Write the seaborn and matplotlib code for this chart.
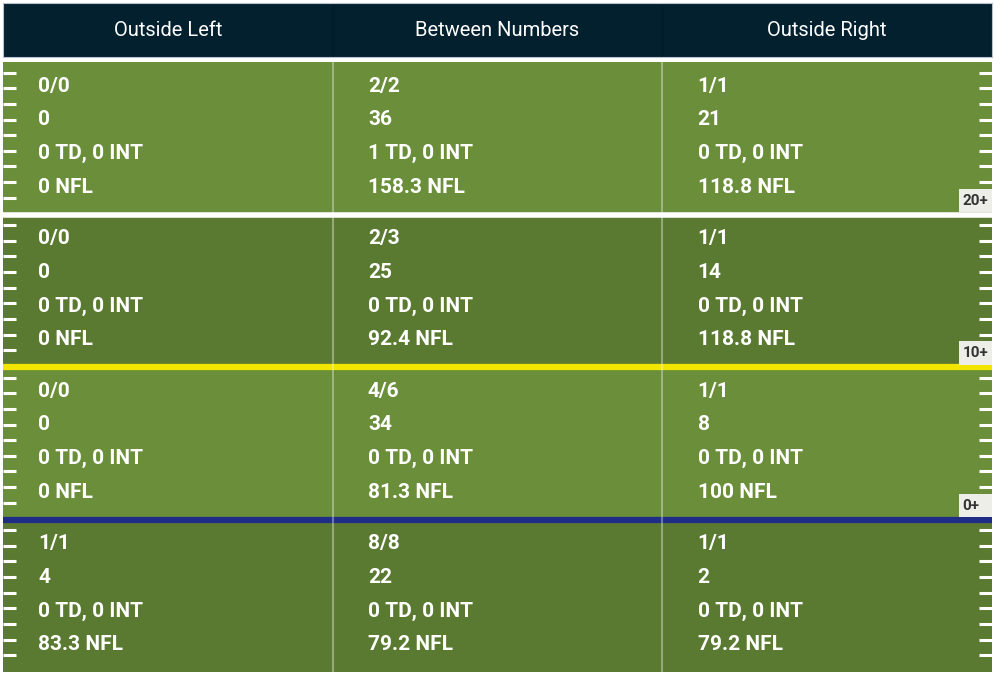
import numpy as np
import pandas as pd
import seaborn as sns
import matplotlib.pyplot as plt
from matplotlib.colors import ListedColormap
from matplotlib.patches import Rectangle

# Passing chart by field zone
zones = ['Outside Left', 'Between Numbers', 'Outside Right']
depths = ['20+', '10+', '0+', '']
completions = [[0, 2, 1], [0, 2, 1], [0, 4, 1], [1, 8, 1]]
attempts = [[0, 2, 1], [0, 3, 1], [0, 6, 1], [1, 8, 1]]
yards = [[0, 36, 21], [0, 25, 14], [0, 34, 8], [4, 22, 2]]
touchdowns = [[0, 1, 0], [0, 0, 0], [0, 0, 0], [0, 0, 0]]
interceptions = [[0, 0, 0], [0, 0, 0], [0, 0, 0], [0, 0, 0]]
rating = [[0, 158.3, 118.8], [0, 92.4, 118.8], [0, 81.3, 100], [83.3, 79.2, 79.2]]

light_green = '#6b8e3a'
dark_green = '#5b7a31'
header_col = '#03202f'

sns.set_style('white')
plt.rcParams['font.family'] = ['Roboto', 'DejaVu Sans']

fig = plt.figure(figsize=(10, 6.77), dpi=100)

# header bar
ax_h = fig.add_axes([0.003, 1 - 57 / 677, 0.989, 54 / 677])
ax_h.set_xlim(0, len(zones))
ax_h.set_ylim(0, 1)
ax_h.set_facecolor(header_col)
for s in ax_h.spines.values():
    s.set_color('#b8c2cc')
    s.set_linewidth(0.8)
ax_h.set_xticks([])
ax_h.set_yticks([])
for i, z in enumerate(zones):
    ax_h.text(i + 0.5, 0.5, z, color='white', fontsize=14.5, ha='center', va='center')
for i in range(1, len(zones)):
    ax_h.axvline(i, color='#021a2a', lw=1)

# field: alternate light / dark stripes by row
shade = pd.DataFrame([[r % 2] * len(zones) for r in range(len(depths))], columns=zones)
ax = fig.add_axes([0.003, 1 - 672 / 677, 0.989, 610 / 677])
sns.heatmap(shade, cmap=ListedColormap([light_green, dark_green]), cbar=False,
            xticklabels=False, yticklabels=False, ax=ax)
ax.set_axis_off()

# yard lines between rows
ax.axhline(1, color='white', lw=4)
ax.axhline(2, color='#f2e600', lw=4.5)
ax.axhline(3, color='#1f2d86', lw=4.5)
for i in range(1, len(zones)):
    ax.axvline(i, color='white', alpha=0.35, lw=1.5)

# hash marks on both sidelines
for r in range(len(depths)):
    ys = r + np.linspace(0.07, 0.89, 9)
    ax.hlines(ys, 0, 0.04, color='white', lw=2.2)
    ax.hlines(ys, len(zones) - 0.04, len(zones), color='white', lw=2.2)

# stats in each cell
line_pos = [0.16, 0.38, 0.6, 0.82]
for r in range(len(depths)):
    for c in range(len(zones)):
        lines = [f'{completions[r][c]}/{attempts[r][c]}',
                 f'{yards[r][c]}',
                 f'{touchdowns[r][c]} TD, {interceptions[r][c]} INT',
                 f'{rating[r][c]:g} NFL']
        for k, t in enumerate(lines):
            ax.text(c + 0.107, r + line_pos[k], t, color='white', fontsize=15,
                    fontweight='bold', ha='left', va='center')

# depth markers
for r, d in enumerate(depths):
    if not d:
        continue
    ax.add_patch(Rectangle((len(zones) - 0.1, r + 1 - 0.17), 0.1, 0.155,
                           facecolor='#eeeee8', edgecolor='none', zorder=5))
    ax.text(len(zones) - 0.09, r + 1 - 0.09, d, color='#333333', fontsize=11,
            fontweight='bold', ha='left', va='center', zorder=6)

fig.savefig('out.png', dpi=100)
